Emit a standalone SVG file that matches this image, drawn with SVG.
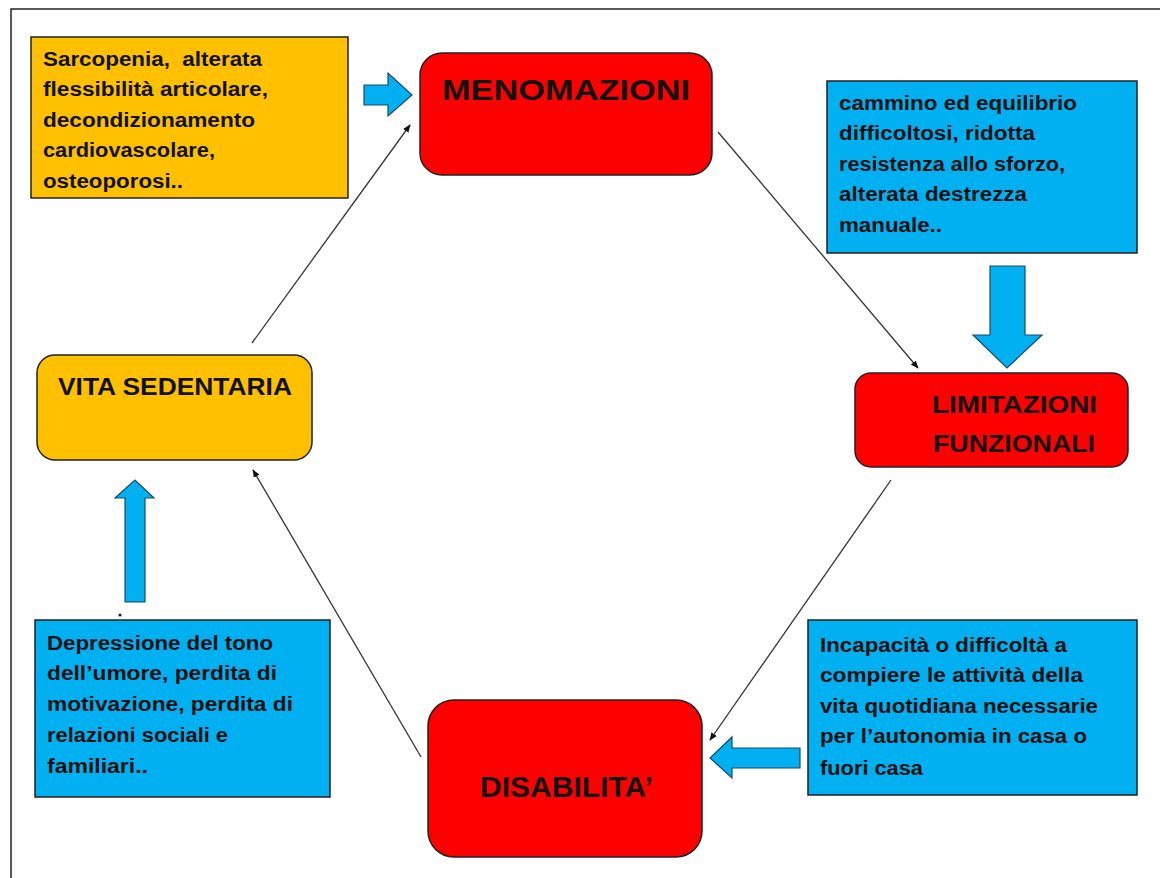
<svg xmlns="http://www.w3.org/2000/svg" width="1160" height="878" viewBox="0 0 1160 878">
<style>
  .t { font-family: "Liberation Sans", Arial, sans-serif; font-weight: bold; fill: #111; }
  .s { font-size: 19.5px; }
  .m { font-size: 24px; }
  .l { font-size: 30px; }
  .box { stroke: #222; stroke-width: 1.5; }
  .orange { fill: #FFC000; }
  .red { fill: #FF0000; }
  .blue { fill: #00B0F0; }
  .conn { stroke: #333; stroke-width: 1.3; fill: none; marker-end: url(#ah); }
  .blk { fill: #00B0F0; stroke: #1a4a6a; stroke-width: 1.2; }
</style>
<defs>
  <marker id="ah" viewBox="0 0 10 10" refX="9" refY="5" markerWidth="8" markerHeight="8" markerUnits="userSpaceOnUse" orient="auto">
    <path d="M0,1 L10,5 L0,9 z" fill="#111"/>
  </marker>
</defs>
<rect width="1160" height="878" fill="#fff"/>
<path d="M11,878 V9 H1160" fill="none" stroke="#222" stroke-width="1.5"/>

<g id="connectors">
  <line class="conn" x1="252" y1="343" x2="410" y2="125"/>
  <line class="conn" x1="718" y1="132" x2="918" y2="368"/>
  <line class="conn" x1="891" y1="480" x2="710" y2="740"/>
  <line class="conn" x1="421" y1="757" x2="253" y2="470"/>
  <polygon class="blk" points="364,85 388,85 388,73 412,95 388,116 388,105 364,105"/>
  <polygon class="blk" points="990,266 1025,266 1025,335 1042,335 1007,368 973,335 990,335"/>
  <polygon class="blk" points="125,602 125,498 115,498 135,480 154,498 145,498 145,602"/>
  <polygon class="blk" points="800,748 732,748 732,737 710,758 732,778 732,768 800,768"/>
  <circle cx="120" cy="615" r="1.6" fill="#222"/>
</g>

<g id="sarcopenia">
  <rect class="box orange" x="31" y="37" width="317" height="161"/>
  <text class="t s" x="43" y="66" textLength="219" lengthAdjust="spacingAndGlyphs" xml:space="preserve">Sarcopenia,  alterata</text>
  <text class="t s" x="43" y="96" textLength="225" lengthAdjust="spacingAndGlyphs">flessibilità articolare,</text>
  <text class="t s" x="43" y="127" textLength="212" lengthAdjust="spacingAndGlyphs">decondizionamento</text>
  <text class="t s" x="43" y="157" textLength="172" lengthAdjust="spacingAndGlyphs">cardiovascolare,</text>
  <text class="t s" x="43" y="188" textLength="140" lengthAdjust="spacingAndGlyphs">osteoporosi..</text>
</g>

<g id="menomazioni">
  <rect class="box red" x="420" y="53" width="292" height="122" rx="22"/>
  <text class="t l" x="442" y="100" textLength="248" lengthAdjust="spacingAndGlyphs">MENOMAZIONI</text>
</g>

<g id="cammino">
  <rect class="box blue" x="827" y="81" width="310" height="172"/>
  <text class="t s" x="839" y="110" textLength="238" lengthAdjust="spacingAndGlyphs">cammino ed equilibrio</text>
  <text class="t s" x="839" y="140" textLength="196" lengthAdjust="spacingAndGlyphs">difficoltosi, ridotta</text>
  <text class="t s" x="839" y="171" textLength="226" lengthAdjust="spacingAndGlyphs">resistenza allo sforzo,</text>
  <text class="t s" x="839" y="201" textLength="188" lengthAdjust="spacingAndGlyphs">alterata destrezza</text>
  <text class="t s" x="839" y="232" textLength="103" lengthAdjust="spacingAndGlyphs">manuale..</text>
</g>

<g id="limitazioni">
  <rect class="box red" x="855" y="373" width="273" height="94" rx="16"/>
  <text class="t m" x="932" y="413" textLength="165" lengthAdjust="spacingAndGlyphs">LIMITAZIONI</text>
  <text class="t m" x="933" y="452" textLength="162" lengthAdjust="spacingAndGlyphs">FUNZIONALI</text>
</g>

<g id="vita-sedentaria">
  <rect class="box orange" x="37" y="355" width="275" height="105" rx="18"/>
  <text class="t m" x="58" y="395" textLength="234" lengthAdjust="spacingAndGlyphs">VITA SEDENTARIA</text>
</g>

<g id="depressione">
  <rect class="box blue" x="35" y="620" width="295" height="177"/>
  <text class="t s" x="47" y="650" textLength="226" lengthAdjust="spacingAndGlyphs">Depressione del tono</text>
  <text class="t s" x="47" y="680" textLength="230" lengthAdjust="spacingAndGlyphs">dell’umore, perdita di</text>
  <text class="t s" x="47" y="711" textLength="246" lengthAdjust="spacingAndGlyphs">motivazione, perdita di</text>
  <text class="t s" x="47" y="742" textLength="181" lengthAdjust="spacingAndGlyphs">relazioni sociali e</text>
  <text class="t s" x="47" y="773" textLength="101" lengthAdjust="spacingAndGlyphs">familiari..</text>
</g>

<g id="disabilita">
  <rect class="box red" x="428" y="700" width="274" height="157" rx="26"/>
  <text class="t l" x="480" y="797" textLength="173" lengthAdjust="spacingAndGlyphs">DISABILITA’</text>
</g>

<g id="incapacita">
  <rect class="box blue" x="808" y="620" width="329" height="175"/>
  <text class="t s" x="820" y="652" textLength="247" lengthAdjust="spacingAndGlyphs">Incapacità o difficoltà a</text>
  <text class="t s" x="820" y="682" textLength="263" lengthAdjust="spacingAndGlyphs">compiere le attività della</text>
  <text class="t s" x="820" y="713" textLength="278" lengthAdjust="spacingAndGlyphs">vita quotidiana necessarie</text>
  <text class="t s" x="820" y="743" textLength="267" lengthAdjust="spacingAndGlyphs">per l’autonomia in casa o</text>
  <text class="t s" x="820" y="775" textLength="103" lengthAdjust="spacingAndGlyphs">fuori casa</text>
</g>
</svg>
